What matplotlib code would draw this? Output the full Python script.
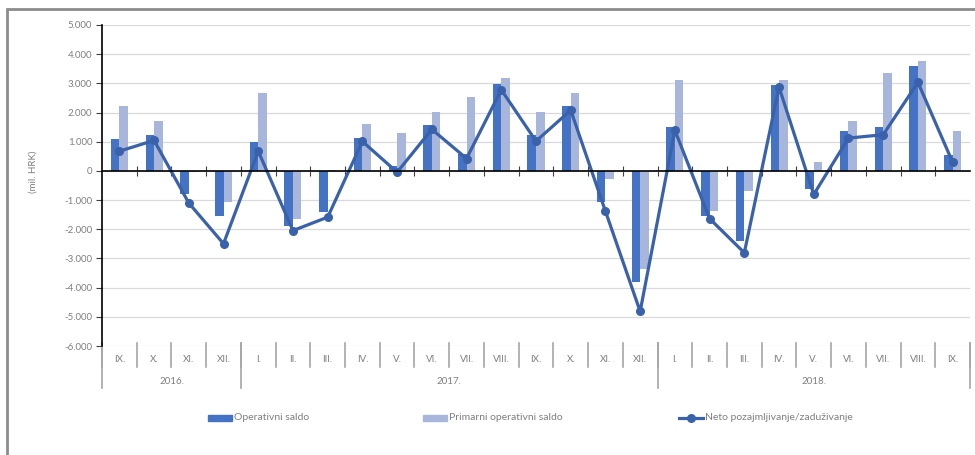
import matplotlib
matplotlib.use("Agg")
import matplotlib.pyplot as plt
import numpy as np
from matplotlib.patches import Rectangle
from matplotlib.lines import Line2D
from matplotlib.ticker import FuncFormatter, FixedLocator

plt.rcParams['font.family'] = ['Lato', 'DejaVu Sans']

months = ["IX.", "X.", "XI.", "XII.",
          "I.", "II.", "III.", "IV.", "V.", "VI.", "VII.", "VIII.", "IX.", "X.", "XI.", "XII.",
          "I.", "II.", "III.", "IV.", "V.", "VI.", "VII.", "VIII.", "IX."]
years = ["2016.", "2017.", "2018."]
year_counts = [4, 12, 9]

operativni = [1080, 1240, -795, -1540,
              1000, -1875, -1415, 1140, 180, 1585, 595, 2975, 1215, 2240, -1080, -3820,
              1515, -1530, -2390, 2960, -620, 1365, 1490, 3605, 550]
primarni = [2215, 1710, -50, -1080,
            2655, -1635, 30, 1600, 1285, 2020, 2525, 3170, 2020, 2655, -275, -3360,
            3115, -1380, -680, 3115, 320, 1720, 3365, 3765, 1380]
neto = [675, 1045, -1100, -2495,
        675, -2045, -1585, 1010, -45, 1425, 425, 2780, 1020, 2080, -1380, -4815,
        1390, -1635, -2805, 2870, -805, 1125, 1240, 3035, 295]

labels = ["Operativni saldo", "Primarni operativni saldo", "Neto pozajmljivanje/zaduživanje"]

c_dark = "#4472C4"
c_light = "#A9B6DB"
c_line = "#3A62AA"
c_text = "#7F7F7F"

W, H = 975, 455
fig = plt.figure(figsize=(W / 100, H / 100), dpi=100)
ax_l, ax_r, ax_t, ax_b = 102, 970, 25, 346
ax = fig.add_axes([ax_l / W, 1 - ax_b / H, (ax_r - ax_l) / W, (ax_b - ax_t) / H])

n = len(months)
x = np.arange(n)
bw = 0.245
ax.bar(x - bw / 2, operativni, bw, color=c_dark, zorder=3, label=labels[0])
ax.bar(x + bw / 2, primarni, bw, color=c_light, zorder=3, label=labels[1])
ax.plot(x, neto, color=c_line, lw=2.3, marker='o', ms=5.5, zorder=5, label=labels[2])

ax.set_xlim(-0.5, n - 0.5)
ax.set_ylim(-6000, 5000)
ax.yaxis.set_major_locator(FixedLocator(np.arange(-6000, 5001, 1000)))
ax.yaxis.set_major_formatter(FuncFormatter(
    lambda v, p: "0" if v == 0 else ("-" if v < 0 else "") + f"{abs(int(v)):,}".replace(",", ".")))
ax.tick_params(axis='y', labelsize=7, labelcolor=c_text, length=4, width=0.8, color="#404040", pad=3)
ax.grid(axis='y', color="#D9D9D9", lw=0.9, zorder=0)
ax.set_axisbelow(True)

for s in ['top', 'right']:
    ax.spines[s].set_visible(False)
ax.spines['left'].set_color('black')
ax.spines['left'].set_linewidth(1.2)
ax.spines['bottom'].set_position(('data', 0))
ax.spines['bottom'].set_color('black')
ax.spines['bottom'].set_linewidth(1.2)
ax.spines['bottom'].set_zorder(6)
ax.set_xticks(np.arange(0.5, n - 0.5, 1))
ax.tick_params(axis='x', direction='inout', length=7, width=0.8, color="#404040", labelbottom=False)

# category labels and separators below plot
tr = ax.transAxes
axh = ax_b - ax_t
def ay(py):
    return (ax_b - py) / axh

sep_col = "#A6A6A6"
for k in range(n + 1):
    xa = k / n
    ax.add_line(Line2D([xa, xa], [ay(343), ay(367)], transform=tr, color=sep_col, lw=1.2, clip_on=False))
for i, m in enumerate(months):
    ax.text((i + 0.5) / n, ay(360), m, transform=tr, ha='center', va='center', fontsize=7, color=c_text)
start = 0
bounds = [0]
for yl, cnt in zip(years, year_counts):
    ax.text((start + cnt / 2) / n, ay(382), yl, transform=tr, ha='center', va='center', fontsize=7, color=c_text)
    start += cnt
    bounds.append(start)
for b in bounds:
    ax.add_line(Line2D([b / n, b / n], [ay(343), ay(388)], transform=tr, color=sep_col, lw=1.2, clip_on=False))

# y label
fig.text(33 / W, 1 - 172 / H, "(mil. HRK)", rotation=90, ha='center', va='center', fontsize=7, color=c_text)

# legend (manual)
ly = 1 - 418 / H
ph = 6 / H
fig.patches.append(Rectangle((208 / W, ly - ph / 2), 24 / W, ph, transform=fig.transFigure, color=c_dark))
fig.text(234 / W, ly, labels[0], ha='left', va='center', fontsize=7.5, color=c_text)
fig.patches.append(Rectangle((423 / W, ly - ph / 2), 24 / W, ph, transform=fig.transFigure, color=c_light))
fig.text(449 / W, ly, labels[1], ha='left', va='center', fontsize=7.5, color=c_text)
fig.lines.append(Line2D([679 / W, 703 / W], [ly, ly], transform=fig.transFigure, color=c_line, lw=2.3,
                        marker='o', markevery=[1], ms=0))
fig.lines.append(Line2D([691 / W], [ly], transform=fig.transFigure, color=c_line, marker='o', ms=5.5, lw=0))
fig.text(705 / W, ly, labels[2], ha='left', va='center', fontsize=7.5, color=c_text)

# outer frame
fig.patches.append(Rectangle((7 / W, -0.1), 1.2, 1 - 9 / H + 0.1, transform=fig.transFigure,
                             fill=False, edgecolor="#8C8C8C", lw=2))

fig.savefig("out.png", dpi=100)
